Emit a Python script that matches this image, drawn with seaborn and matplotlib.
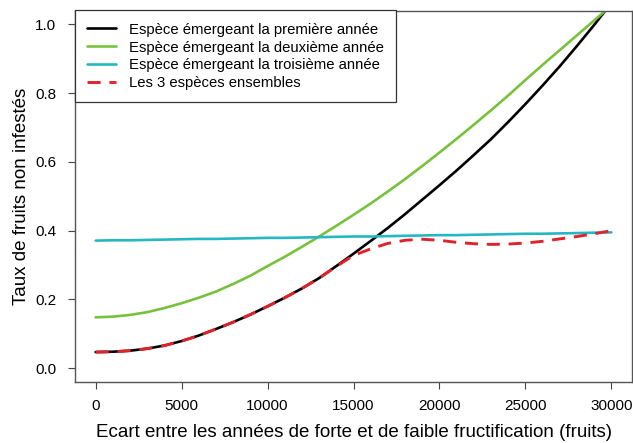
import numpy as np
import pandas as pd
import matplotlib
matplotlib.use('Agg')
import matplotlib.pyplot as plt
from matplotlib.lines import Line2D
import seaborn as sns

# ecart entre annees de forte et faible fructification (fruits)
ecart = list(range(0, 31000, 1000))

premiere = [0.047, 0.048, 0.051, 0.057, 0.066, 0.079, 0.095, 0.114, 0.134, 0.156,
            0.180, 0.205, 0.232, 0.262, 0.297, 0.333, 0.370, 0.408, 0.448, 0.490,
            0.532, 0.575, 0.620, 0.666, 0.716, 0.768, 0.822, 0.878, 0.937, 0.998, 1.062]

deuxieme = [0.148, 0.150, 0.155, 0.163, 0.175, 0.189, 0.205, 0.223, 0.245, 0.269,
            0.297, 0.324, 0.353, 0.383, 0.414, 0.446, 0.479, 0.514, 0.550, 0.588,
            0.627, 0.667, 0.708, 0.750, 0.793, 0.838, 0.882, 0.925, 0.968, 1.011, 1.055]

troisieme = [0.371, 0.372, 0.372, 0.373, 0.374, 0.375, 0.376, 0.376, 0.377, 0.378,
             0.379, 0.379, 0.380, 0.381, 0.382, 0.383, 0.383, 0.384, 0.385, 0.386,
             0.387, 0.387, 0.388, 0.389, 0.390, 0.391, 0.391, 0.392, 0.393, 0.394, 0.395]

ensemble = [0.047, 0.048, 0.051, 0.057, 0.066, 0.079, 0.095, 0.114, 0.134, 0.156,
            0.180, 0.205, 0.232, 0.262, 0.296, 0.328, 0.347, 0.363, 0.372, 0.375,
            0.372, 0.366, 0.362, 0.360, 0.361, 0.364, 0.369, 0.376, 0.383, 0.391, 0.400]

labels = ["Espèce émergeant la première année",
          "Espèce émergeant la deuxième année",
          "Espèce émergeant la troisième année",
          "Les 3 espèces ensembles"]
couleurs = ["black", "#78c13c", "#26b8c2", "#e0232a"]

df = pd.DataFrame({'ecart': ecart, 'premiere': premiere, 'deuxieme': deuxieme,
                   'troisieme': troisieme, 'ensemble': ensemble})

sns.set_theme(style='white')
plt.rcParams['font.family'] = ['Liberation Sans', 'DejaVu Sans']
plt.rcParams['text.color'] = 'black'
plt.rcParams['axes.labelcolor'] = 'black'
plt.rcParams['xtick.color'] = 'black'
plt.rcParams['ytick.color'] = 'black'

fig = plt.figure(figsize=(6.33, 4.43), dpi=100)
ax = fig.add_axes([75 / 633, 61 / 443, 557 / 633, 371.5 / 443])

sns.lineplot(data=df, x='ecart', y='premiere', color=couleurs[0], lw=1.9, ax=ax)
sns.lineplot(data=df, x='ecart', y='deuxieme', color=couleurs[1], lw=1.9, ax=ax)
sns.lineplot(data=df, x='ecart', y='troisieme', color=couleurs[2], lw=1.9, ax=ax)
sns.lineplot(data=df, x='ecart', y='ensemble', color=couleurs[3], lw=2.1,
             dashes=(4.5, 3), ax=ax)

ax.set_xlim(-1200, 31200)
ax.set_ylim(-0.04, 1.04)
ax.set_xticks(range(0, 30001, 5000))
ax.set_yticks([0.0, 0.2, 0.4, 0.6, 0.8, 1.0])
ax.set_yticklabels(['0.0', '0.2', '0.4', '0.6', '0.8', '1.0'])
ax.tick_params(axis='both', which='major', direction='out', length=5, width=0.8,
               color='#444444', labelsize=11, bottom=True, left=True)
ax.tick_params(axis='y', pad=8.5)
ax.tick_params(axis='x', pad=7)
for s in ax.spines.values():
    s.set_color('#555555')
    s.set_linewidth(1.0)

ax.set_xlabel('Ecart entre les années de forte et de faible fructification (fruits)',
              fontsize=13.5, labelpad=8)
ax.set_ylabel('Taux de fruits non infestés', fontsize=13.5, labelpad=3.5)

handles = [Line2D([], [], color=couleurs[0], lw=1.9),
           Line2D([], [], color=couleurs[1], lw=1.9),
           Line2D([], [], color=couleurs[2], lw=1.9),
           Line2D([], [], color=couleurs[3], lw=2.1, dashes=(4.5, 3))]
leg = ax.legend(handles, labels, loc='upper left', borderaxespad=0, fontsize=10.7,
                frameon=True, fancybox=False, framealpha=1, edgecolor='#333333',
                handlelength=1.95, handletextpad=0.85, labelspacing=0.26,
                borderpad=0.82)
leg.get_frame().set_linewidth(0.9)

fig.savefig('out.png', dpi=100)
